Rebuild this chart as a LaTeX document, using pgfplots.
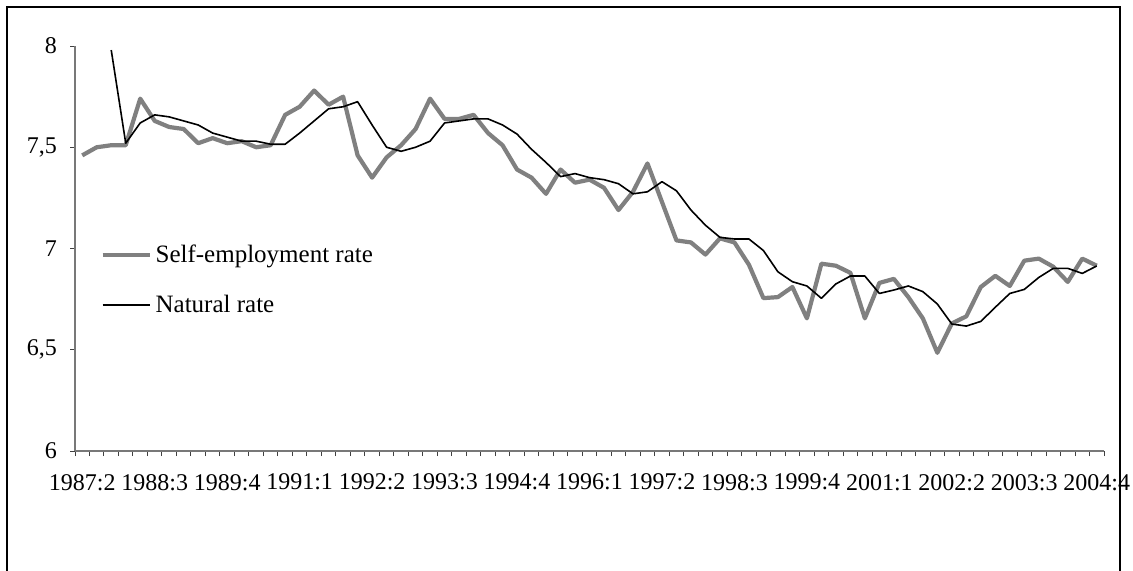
\documentclass[border=0pt]{standalone}
\usepackage{fontspec}
\setmainfont{Liberation Serif}
\usepackage{pgfplots}
\usepackage{pgfplotstable}
\pgfplotsset{compat=1.18}
\definecolor{segray}{RGB}{128,128,128}
\definecolor{axgray}{RGB}{120,120,120}
\pgfplotstableread{
i v
0 7.46
1 7.50
2 7.51
3 7.51
4 7.74
5 7.63
6 7.60
7 7.59
8 7.52
9 7.545
10 7.52
11 7.53
12 7.50
13 7.51
14 7.66
15 7.70
16 7.78
17 7.71
18 7.75
19 7.46
20 7.35
21 7.45
22 7.51
23 7.59
24 7.74
25 7.64
26 7.64
27 7.66
28 7.57
29 7.51
30 7.39
31 7.35
32 7.27
33 7.39
34 7.325
35 7.34
36 7.30
37 7.19
38 7.28
39 7.42
40 7.23
41 7.04
42 7.03
43 6.97
44 7.05
45 7.03
46 6.92
47 6.755
48 6.76
49 6.81
50 6.655
51 6.925
52 6.915
53 6.88
54 6.655
55 6.83
56 6.85
57 6.76
58 6.655
59 6.485
60 6.63
61 6.665
62 6.81
63 6.865
64 6.815
65 6.94
66 6.95
67 6.91
68 6.835
69 6.95
70 6.915
}\selfemp
\pgfplotstableread{
i v
2 7.98
3 7.52
4 7.62
5 7.66
6 7.65
7 7.63
8 7.61
9 7.57
10 7.55
11 7.53
12 7.53
13 7.515
14 7.515
15 7.57
16 7.63
17 7.69
18 7.70
19 7.725
20 7.61
21 7.50
22 7.48
23 7.50
24 7.53
25 7.62
26 7.63
27 7.64
28 7.64
29 7.61
30 7.565
31 7.49
32 7.425
33 7.355
34 7.37
35 7.35
36 7.34
37 7.32
38 7.27
39 7.28
40 7.33
41 7.285
42 7.19
43 7.115
44 7.055
45 7.047
46 7.047
47 6.99
48 6.885
49 6.836
50 6.815
51 6.754
52 6.825
53 6.864
54 6.864
55 6.778
56 6.795
57 6.815
58 6.787
59 6.726
60 6.627
61 6.617
62 6.64
63 6.71
64 6.778
65 6.798
66 6.857
67 6.902
68 6.902
69 6.877
70 6.914
}\natural
\begin{document}
\begin{tikzpicture}
\useasboundingbox (0,0) rectangle (566.5pt,285pt);
\fill[white] (0,0) rectangle (566.5pt,285pt);
\draw[line width=1pt] (3.5pt,281.5pt) rectangle (560pt,-20pt);
\begin{axis}[
  at={(37.5pt,59.5pt)}, anchor=south west,
  scale only axis, width=514.5pt, height=202.5pt,
  xmin=-0.5, xmax=70.5, ymin=6, ymax=8,
  axis x line=bottom, axis y line=left,
  axis line style={-, axgray, line width=0.6pt},
  tick align=outside,
  tick style={black!75, line width=0.5pt},
  major tick length=2.5pt, minor tick length=2.5pt,
  ytick={6,6.5,7,7.5,8},
  yticklabels={6,{6,5},7,{7,5},8},
  xtick={0,5,...,70},
  xticklabels={1987:2,1988:3,1989:4,1991:1,1992:2,1993:3,1994:4,1996:1,1997:2,1998:3,1999:4,2001:1,2002:2,2003:3,2004:4},
  minor xtick={-0.5,0.5,...,70.5},
  major x tick style={draw=none},
  ticklabel style={font=\fontsize{12}{14}\selectfont},
  xticklabel style={yshift=-5.5pt},
  yticklabel style={xshift=-3pt},
  legend style={at={(0.0243,0.509)}, anchor=north west, draw=none, fill=none,
    inner sep=0pt, row sep=13.7pt, column sep=2pt,
    font=\fontsize{12.5}{15}\selectfont,
    nodes={inner sep=0pt, text height=8.6pt, text depth=2.7pt}},
  legend cell align=left,
  legend image code/.code={\draw[#1] (0pt,0.8pt) -- (23.5pt,0.8pt);},
]
\addplot[segray, line width=2.1pt, line join=round] table[x=i,y=v] {\selfemp};
\addplot[black, line width=0.8pt, line join=round] table[x=i,y=v] {\natural};
\legend{Self-employment rate, Natural rate}
\end{axis}
\end{tikzpicture}
\end{document}
